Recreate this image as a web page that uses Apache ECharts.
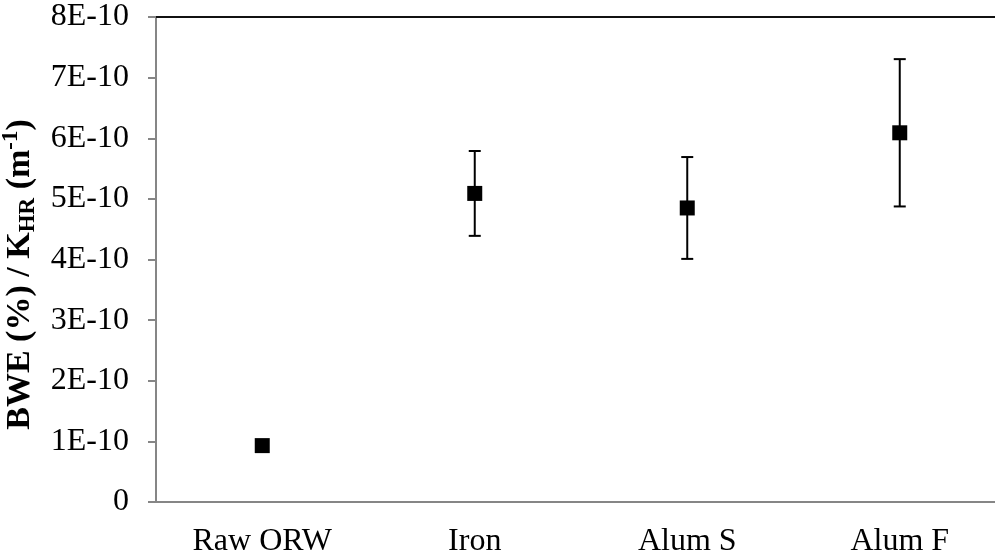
<!DOCTYPE html>
<html>
<head>
<meta charset="utf-8">
<script src="https://cdn.jsdelivr.net/npm/echarts@6/dist/echarts.min.js"></script>
<style>
  html, body { margin: 0; padding: 0; background: #fff; }
  #chart { width: 995px; height: 559px; }
</style>
</head>
<body>
<div id="chart"></div>
<script>
var categories = ['Raw ORW', 'Iron', 'Alum S', 'Alum F']
var means = [0.93e-10, 5.09e-10, 4.85e-10, 6.09e-10]
var errors = [0, 0.70e-10, 0.84e-10, 1.215e-10]
var yMin = 0
var yMax = 8e-10
var yStep = 1e-10

var font = '"Liberation Serif", "Times New Roman", serif'
var myChart = echarts.init(document.getElementById('chart'))

// error bars: [category index, low, high]
var barData = categories.map(function (c, i) {
  return [i, means[i] - errors[i], means[i] + errors[i]]
}).filter(function (d, i) { return errors[i] > 0 })

var option = {
  animation: false,
  grid: { left: 156, top: 17, right: -11, bottom: 57, containLabel: false, outerBoundsMode: 'none' },
  xAxis: [{
    type: 'category',
    data: categories,
    axisLine: { lineStyle: { color: '#868686', width: 2 } },
    axisTick: { show: false },
    axisLabel: { color: '#000', fontFamily: font, fontSize: 32, margin: 24 },
    splitLine: { show: false }
  }, {
    type: 'category',
    position: 'top',
    data: categories,
    axisLine: { lineStyle: { color: '#111', width: 2 } },
    axisTick: { show: false },
    axisLabel: { show: false }
  }],
  yAxis: {
    type: 'value',
    min: yMin,
    max: yMax,
    interval: yStep,
    axisLine: { show: true, lineStyle: { color: '#868686', width: 2 } },
    axisTick: { show: true, length: 8, lineStyle: { color: '#868686', width: 2 } },
    splitLine: { show: false },
    axisLabel: {
      color: '#000', fontFamily: font, fontSize: 32, margin: 27,
      formatter: function (v) {
        if (v === 0) return '0'
        return Math.round(v / yStep) + 'E-10'
      }
    },
    name: '{b|BWE (%) / K}{sub|HR}{b| (m}{sup|-1}{b|)}',
    nameLocation: 'middle',
    nameRotate: 90,
    nameGap: 100,
    nameTextStyle: {
      padding: [0, 30, 0, 0],
      rich: {
        b: { fontFamily: font, fontWeight: 'bold', fontSize: 34, color: '#000', lineHeight: 40, verticalAlign: 'middle' },
        sub: { fontFamily: font, fontWeight: 'bold', fontSize: 23, color: '#000', lineHeight: 40, verticalAlign: 'bottom', padding: [12, 0, 0, 0] },
        sup: { fontFamily: font, fontWeight: 'bold', fontSize: 23, color: '#000', lineHeight: 40, verticalAlign: 'top', padding: [0, 0, 14, 0] }
      }
    }
  },
  series: [{
    type: 'custom',
    data: barData,
    z: 2,
    renderItem: function (params, api) {
      var x = api.value(0)
      var lo = api.coord([x, api.value(1)])
      var hi = api.coord([x, api.value(2)])
      var cap = 6
      var style = { stroke: '#000', lineWidth: 2 }
      return {
        type: 'group',
        children: [
          { type: 'line', shape: { x1: hi[0], y1: hi[1], x2: lo[0], y2: lo[1] }, style: style },
          { type: 'line', shape: { x1: hi[0] - cap, y1: hi[1], x2: hi[0] + cap, y2: hi[1] }, style: style },
          { type: 'line', shape: { x1: lo[0] - cap, y1: lo[1], x2: lo[0] + cap, y2: lo[1] }, style: style }
        ]
      }
    }
  }, {
    type: 'scatter',
    data: means,
    symbol: 'rect',
    symbolSize: 15,
    z: 3,
    itemStyle: { color: '#000', opacity: 1 }
  }]
}
myChart.setOption(option)
window.addEventListener('resize', function () {
  myChart.resize()
})
</script>
</body>
</html>
